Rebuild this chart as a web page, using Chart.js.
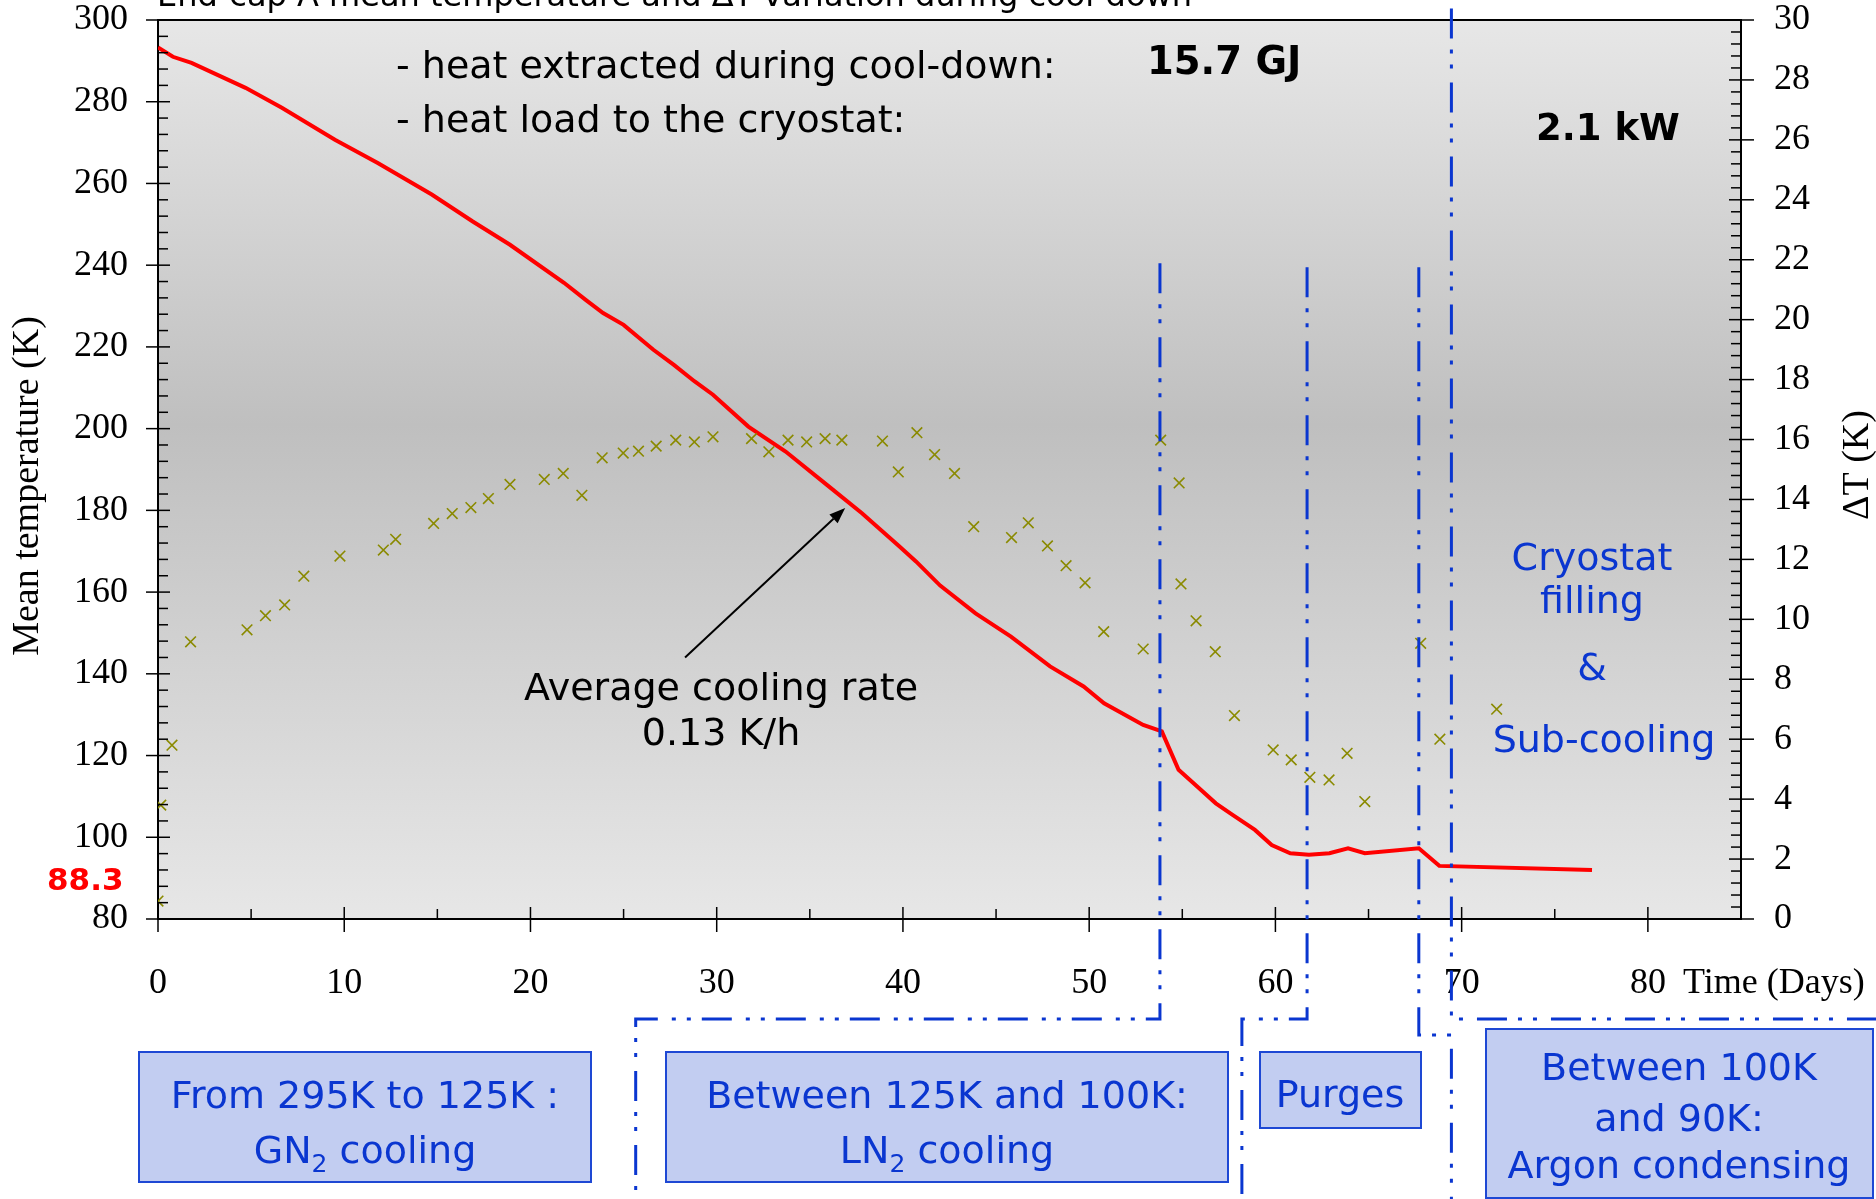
<!DOCTYPE html>
<html><head><meta charset="utf-8">
<script src="https://cdn.jsdelivr.net/npm/chart.js@4.4.1/dist/chart.umd.min.js"></script>
<style>html,body{margin:0;padding:0;background:#fff;overflow:hidden}#wrap{width:1876px;height:1199px;position:relative}</style>
</head><body><div id="wrap"><canvas id="c" width="1876" height="1199"></canvas></div>
<script>
// ---- data ----
const tempDays = [0, 0.8, 1.8, 4.7, 6.65, 9.5, 11.8, 14.7, 16.9, 18.9, 21.8, 23.0, 23.9, 25.0, 26.6, 27.7, 28.8, 29.8, 31.7, 33.7, 35.9, 37.8, 39.8, 40.7, 42.0, 43.9, 45.8, 47.9, 49.7, 50.8, 52.9, 53.9, 54.8, 55.8, 56.8, 57.7, 58.9, 59.8, 60.8, 61.8, 62.9, 63.9, 64.8, 67.7, 68.8, 77.0];
const tempK = [293.3, 291.0, 289.5, 283.4, 278.5, 270.7, 265.0, 257.3, 250.7, 245.0, 235.7, 231.4, 228.3, 225.4, 219.3, 215.6, 211.6, 208.3, 200.5, 194.4, 186.3, 179.3, 171.2, 167.5, 161.6, 154.8, 149.1, 141.8, 136.9, 132.8, 127.5, 125.9, 116.5, 112.4, 108.3, 105.5, 101.8, 98.1, 96.1, 95.7, 96.1, 97.3, 96.1, 97.3, 93.0, 92.0];
const dtDays = [0.0, 0.15, 0.75, 1.75, 4.78, 5.77, 6.8, 7.83, 9.77, 12.1, 12.76, 14.8, 15.8, 16.8, 17.74, 18.9, 20.74, 21.76, 22.76, 23.85, 24.98, 25.8, 26.75, 27.8, 28.8, 29.8, 31.87, 32.8, 33.83, 34.83, 35.82, 36.72, 38.9, 39.75, 40.75, 41.7, 42.77, 43.8, 45.83, 46.73, 47.76, 48.76, 49.78, 50.78, 52.9, 53.84, 54.83, 54.93, 55.74, 56.77, 57.8, 59.88, 60.85, 61.85, 62.88, 63.85, 64.8, 67.8, 68.83, 71.88];
const dtK = [0.6, 3.8, 5.8, 9.25, 9.65, 10.12, 10.48, 11.44, 12.11, 12.31, 12.67, 13.2, 13.53, 13.73, 14.03, 14.5, 14.67, 14.87, 14.14, 15.39, 15.55, 15.61, 15.78, 15.98, 15.92, 16.09, 16.03, 15.59, 15.98, 15.92, 16.03, 15.98, 15.95, 14.92, 16.23, 15.5, 14.87, 13.09, 12.73, 13.22, 12.45, 11.79, 11.22, 9.59, 9.01, 15.98, 14.55, 11.18, 9.95, 8.92, 6.79, 5.64, 5.31, 4.73, 4.64, 5.53, 3.92, 9.2, 6.0, 7.0];
const xTickLabels = [0, 10, 20, 30, 40, 50, 60, 70, 80];
const yTickLabels = [80, 100, 120, 140, 160, 180, 200, 220, 240, 260, 280, 300];
const y1TickLabels = [0, 2, 4, 6, 8, 10, 12, 14, 16, 18, 20, 22, 24, 26, 28, 30];
// phase boundary lines (days) and their start temperature
const phaseDays = [53.8, 61.7, 67.7, 69.45];
const phaseStartK = [240.5, 239.5, 239.5, 302.8];

const SERIF = "'Liberation Serif','Times New Roman',serif";
const SANS = "'DejaVu Sans',Verdana,sans-serif";
const BLUE = '#0A36D0';
const FS = 38; // annotation font size

function xy(xs, ys){ return xs.map((x,i)=>({x:x, y:ys[i]})); }

const deco = {
  id: 'deco',
  beforeDraw(chart){
    const {ctx, chartArea:a} = chart;
    ctx.save();
    ctx.fillStyle = '#fff'; ctx.fillRect(0,0,chart.width,chart.height);
    const g = ctx.createLinearGradient(0,a.top,0,a.bottom);
    g.addColorStop(0,'#E7E7E7'); g.addColorStop(0.45,'#BFBFBF'); g.addColorStop(1,'#E7E7E7');
    ctx.fillStyle = g; ctx.fillRect(a.left,a.top,a.right-a.left,a.bottom-a.top);
    ctx.restore();
  },
  afterDraw(chart){
    const {ctx, chartArea:a} = chart;
    const xs = chart.scales.x, ys = chart.scales.y, y1 = chart.scales.y1;
    const X = v => xs.getPixelForValue(v), Y = v => ys.getPixelForValue(v);
    ctx.save();
    // frame top
    ctx.strokeStyle = '#000'; ctx.lineWidth = 2;
    ctx.beginPath(); ctx.moveTo(a.left, a.top); ctx.lineTo(a.right, a.top); ctx.stroke();
    // ticks
    ctx.lineWidth = 1.5;
    const seg = (x1,y_1,x2,y_2)=>{ctx.beginPath();ctx.moveTo(x1,y_1);ctx.lineTo(x2,y_2);ctx.stroke();};
    for (let v=0; v<=85; v+=5){ const p=X(v); if (v%10===0) seg(p,a.bottom-12,p,a.bottom+13); else seg(p,a.bottom-10,p,a.bottom); }
    for (let v=80; v<=300; v+=4){ const p=Y(v); if ((v-80)%20===0) seg(a.left-12,p,a.left+12,p); else seg(a.left,p,a.left+10,p); }
    for (let i=0; i<=75; i++){ const p=y1.getPixelForValue(i*0.4); if (i%5===0) seg(a.right-12,p,a.right+13,p); else seg(a.right-10,p,a.right,p); }

    // blue dash-dot-dot phase lines
    ctx.strokeStyle = BLUE; ctx.lineWidth = 3; ctx.setLineDash([30,11,4,11,4,14]);
    const routes = [
      [[X(phaseDays[0]),Y(phaseStartK[0])],[X(phaseDays[0]),1019],[X(25.65),1019],[X(25.65),1199]],
      [[X(phaseDays[1]),Y(phaseStartK[1])],[X(phaseDays[1]),1019],[X(58.2),1019],[X(58.2),1199]],
      [[X(phaseDays[2]),Y(phaseStartK[2])],[X(phaseDays[2]),1035],[X(phaseDays[3]),1035],[X(phaseDays[3]),1199]],
      [[X(phaseDays[3]),Y(phaseStartK[3])],[X(phaseDays[3]),1019],[1876,1019]]
    ];
    routes.forEach(r=>{ ctx.beginPath(); ctx.moveTo(r[0][0],r[0][1]); for(let i=1;i<r.length;i++) ctx.lineTo(r[i][0],r[i][1]); ctx.stroke(); });
    ctx.setLineDash([]);

    // arrow
    const ax0=X(28.3), ay0=Y(144.0), ax1=X(36.9), ay1=Y(180.6);
    ctx.strokeStyle='#000'; ctx.fillStyle='#000'; ctx.lineWidth=2;
    const ang=Math.atan2(ay1-ay0, ax1-ax0), hl=16, hw=6;
    const bx=ax1-hl*Math.cos(ang), by=ay1-hl*Math.sin(ang);
    seg(ax0,ay0,bx,by);
    ctx.beginPath(); ctx.moveTo(ax1,ay1);
    ctx.lineTo(bx+hw*Math.sin(ang), by-hw*Math.cos(ang));
    ctx.lineTo(bx-hw*Math.sin(ang), by+hw*Math.cos(ang)); ctx.closePath(); ctx.fill();

    // texts
    const T=(s,x,y,font,color,align)=>{ctx.font=font;ctx.fillStyle=color;ctx.textAlign=align||'left';ctx.textBaseline='alphabetic';ctx.fillText(s,x,y);};
    const F = FS+'px '+SANS;
    T('End-cap A mean temperature and \u0394T variation during cool-down',157,6,'32px '+SANS,'#000');
    T('- heat extracted during cool-down:',396,78,F,'#000');
    T('- heat load to the cryostat:',396,132,F,'#000');
    T('15.7 GJ',1147,74,'bold 38.5px '+SANS,'#000');
    T('2.1 kW',1536,140,'bold 37px '+SANS,'#000');
    T('Average cooling rate',721,700,F,'#000','center');
    T('0.13 K/h',721,745,F,'#000','center');
    T('Cryostat',1592,570,F,BLUE,'center');
    T('filling',1592,613,F,BLUE,'center');
    T('&',1592,680,F,BLUE,'center');
    T('Sub-cooling',1604,752,F,BLUE,'center');
    T('88.3',47,890,'bold 31px '+SANS,'#FF0000');
    T('Time (Days)',1683,993,'36px '+SERIF,'#000');
    // rotated axis titles
    const R=(s,x,y)=>{ctx.save();ctx.translate(x,y);ctx.rotate(-Math.PI/2);ctx.font='38px '+SERIF;ctx.fillStyle='#000';ctx.textAlign='center';ctx.textBaseline='middle';ctx.fillText(s,0,0);ctx.restore();};
    R('Mean temperature (K)',28,486);
    R('\u0394T (K)',1858,465);

    // phase boxes
    const box=(x1,y_1,x2,y_2)=>{ctx.fillStyle='#C2CDF1';ctx.fillRect(x1,y_1,x2-x1,y_2-y_1);ctx.strokeStyle='#1E48D4';ctx.lineWidth=2;ctx.strokeRect(x1,y_1,x2-x1,y_2-y_1);};
    const sub=(a1,s2,a3,cx,y)=>{ // text with subscript, centered
      ctx.textAlign='left'; ctx.fillStyle=BLUE;
      ctx.font=F; const w1=ctx.measureText(a1).width, w3=ctx.measureText(a3).width;
      ctx.font='25px '+SANS; const w2=ctx.measureText(s2).width;
      let x=cx-(w1+w2+w3)/2;
      ctx.font=F; ctx.fillText(a1,x,y); x+=w1;
      ctx.font='25px '+SANS; ctx.fillText(s2,x,y+9); x+=w2;
      ctx.font=F; ctx.fillText(a3,x,y);
    };
    box(139,1052,591,1182);
    T('From 295K to 125K :',365,1108,F,BLUE,'center');
    sub('GN','2',' cooling',365,1163);
    box(666,1052,1228,1182);
    T('Between 125K and 100K:',947,1108,F,BLUE,'center');
    sub('LN','2',' cooling',947,1163);
    box(1260,1052,1421,1128);
    T('Purges',1340,1107,F,BLUE,'center');
    box(1486,1029,1873,1198);
    T('Between 100K',1679,1080,F,BLUE,'center');
    T('and 90K:',1679,1131,F,BLUE,'center');
    T('Argon condensing',1679,1178,F,BLUE,'center');
    ctx.restore();
  }
};

const noPadV = s => { s.paddingTop = 0; s.paddingBottom = 0; };

new Chart(document.getElementById('c'), {
  data: {
    datasets: [
      { type:'line', label:'Mean temperature', data: xy(tempDays,tempK), yAxisID:'y', borderColor:'#FF0000', borderWidth:4, pointRadius:0, tension:0, fill:false, order:2 },
      { type:'scatter', label:'\u0394T', data: xy(dtDays,dtK), yAxisID:'y1', pointStyle:'crossRot', pointRadius:7.5, borderColor:'#8A8A00', backgroundColor:'#8A8A00', pointBorderWidth:1.6, borderWidth:1.6, order:1 }
    ]
  },
  options: {
    responsive:false, animation:false, devicePixelRatio:1,
    layout:{padding:{top:20,left:0,right:0,bottom:0}},
    plugins:{legend:{display:false}, tooltip:{enabled:false}, title:{display:false}},
    scales:{
      x:{ type:'linear', position:'bottom', min:0, max:85,
          afterBuildTicks:s=>{ s.ticks = xTickLabels.map(v=>({value:v})); },
          afterFit:s=>{ s.height = 280; s.paddingLeft = 0; s.paddingRight = 0; },
          grid:{display:false, drawTicks:false}, border:{display:true, color:'#000', width:2},
          ticks:{ autoSkip:false, maxRotation:0, padding:43, color:'#000', font:{family:SERIF, size:36} } },
      y:{ type:'linear', position:'left', min:80, max:300,
          afterBuildTicks:s=>{ s.ticks = yTickLabels.map(v=>({value:v})); },
          afterFit:s=>{ s.width = 158; noPadV(s); },
          grid:{display:false, drawTicks:false}, border:{display:true, color:'#000', width:2},
          ticks:{ autoSkip:false, padding:30, color:'#000', font:{family:SERIF, size:36} } },
      y1:{ type:'linear', position:'right', min:0, max:30,
          afterBuildTicks:s=>{ s.ticks = y1TickLabels.map(v=>({value:v})); },
          afterFit:s=>{ s.width = 135; noPadV(s); },
          grid:{display:false, drawTicks:false}, border:{display:true, color:'#000', width:2},
          ticks:{ autoSkip:false, padding:33, color:'#000', font:{family:SERIF, size:36} } }
    }
  },
  plugins:[deco]
});
</script></body></html>
